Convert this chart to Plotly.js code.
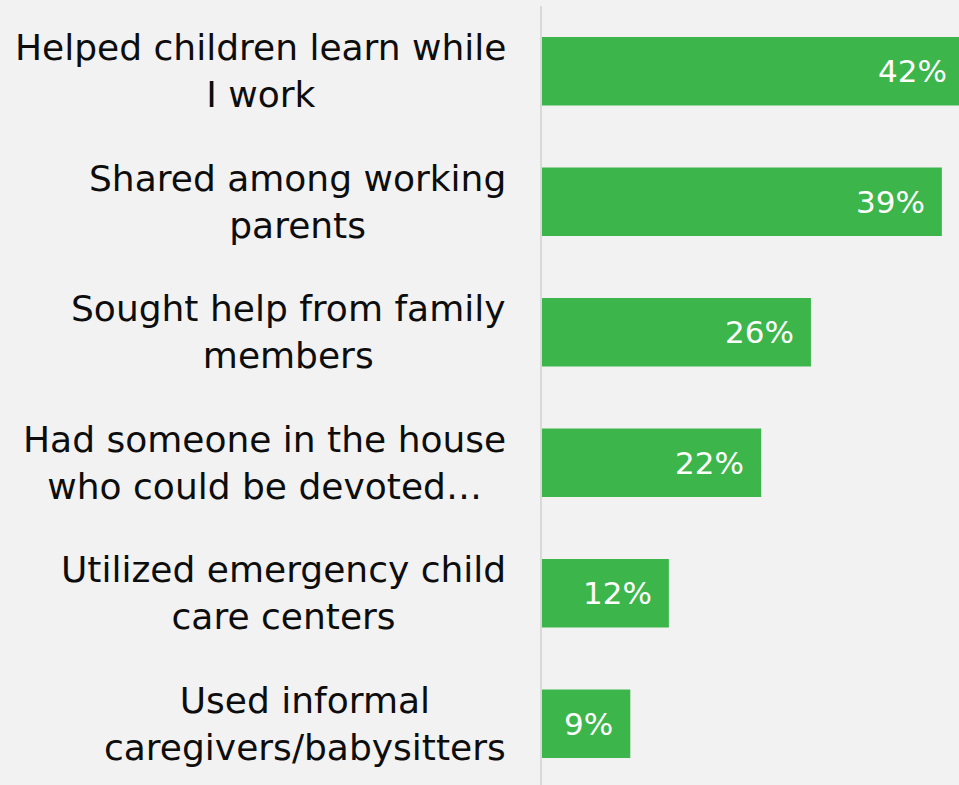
<!DOCTYPE html>
<html>
<head>
<meta charset="utf-8">
<script src="https://cdn.plot.ly/plotly-3.0.1.min.js"></script>
<style>
html, body { margin: 0; padding: 0; background: #f2f2f2; overflow: hidden; width: 959px; height: 785px; }
#chart { width: 985px; height: 789px; }
</style>
</head>
<body>
<div id="chart"></div>
<script>
// Categories (top to bottom)
const categories = [
  "Helped children learn while<br>I work",
  "Shared among working<br>parents",
  "Sought help from family<br>members",
  "Had someone in the house<br>who could be devoted…",
  "Utilized emergency child<br>care centers",
  "Used informal<br>caregivers/babysitters"
];
// Bar lengths
const values = [41.6, 39.4, 26.5, 21.6, 12.5, 8.7];
// Data labels as printed
const valueLabels = ["42%", "39%", "26%", "22%", "12%", "9%"];

const FONT = "DejaVu Sans, Century Gothic, sans-serif";

const trace = {
  type: "bar",
  orientation: "h",
  y: categories,
  x: values,
  width: 0.524,
  marker: { color: "#3cb64b", line: { width: 0 } },
  hoverinfo: "skip",
  showlegend: false
};

const annotations = [];
categories.forEach((c, i) => {
  annotations.push({
    xref: "paper", yref: "y", x: 0, y: c,
    xanchor: "right", yanchor: "middle",
    xshift: -34,
    text: c, align: "center", showarrow: false,
    font: { family: FONT, size: 36, color: "#0d0d0d" }
  });
  annotations.push({
    xref: "x", yref: "y", x: values[i], y: c,
    xanchor: "right", yanchor: "middle",
    xshift: -15,
    text: valueLabels[i], showarrow: false,
    font: { family: FONT, size: 31, color: "#ffffff" }
  });
});

const layout = {
  width: 985,
  height: 789,
  margin: { l: 542, r: 0, t: 6, b: 0 },
  paper_bgcolor: "#f2f2f2",
  plot_bgcolor: "#f2f2f2",
  xaxis: {
    range: [0, 43.65],
    showgrid: false, zeroline: false, showline: false,
    showticklabels: false, ticks: "", fixedrange: true
  },
  yaxis: {
    autorange: "reversed",
    showgrid: false, zeroline: false,
    showline: true, linecolor: "#d9d9d9", linewidth: 2,
    showticklabels: false, ticks: "", fixedrange: true
  },
  annotations: annotations
};

Plotly.newPlot("chart", [trace], layout, { displayModeBar: false, staticPlot: true });
</script>
</body>
</html>
